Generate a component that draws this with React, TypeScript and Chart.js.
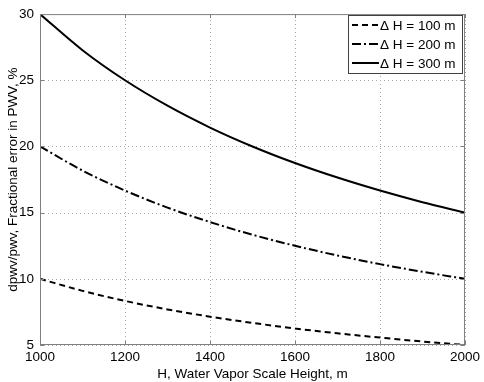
import React, { useEffect, useRef } from "react";
import { Chart, registerables } from "chart.js";

Chart.register(...registerables);

const heights = [1000, 1100, 1200, 1300, 1400, 1500, 1600, 1700, 1800, 1900, 2000];
const err100 = [10, 9.09, 8.33, 7.69, 7.14, 6.67, 6.25, 5.88, 5.56, 5.26, 5.0];
const err200 = [20, 18.18, 16.67, 15.38, 14.29, 13.33, 12.5, 11.76, 11.11, 10.53, 10.0];
const err300 = [30, 27.27, 25.0, 23.08, 21.43, 20.0, 18.75, 17.65, 16.67, 15.79, 15.0];
const seriesLabels = ["\u0394 H = 100 m", "\u0394 H = 200 m", "\u0394 H = 300 m"];
const xTitle = "H, Water Vapor Scale Height, m";
const yTitle = "dpwv/pwv, Fractional error in PWV, %";

const FONT = "'Liberation Sans', Arial, Helvetica, sans-serif";

const gridPlugin = {
  id: "matlabGrid",
  beforeDatasetsDraw(chart: any) {
    const { ctx, chartArea: a, scales } = chart;
    ctx.save();
    ctx.strokeStyle = "#a8a8a8";
    ctx.lineWidth = 1;
    ctx.setLineDash([1, 3]);
    ctx.beginPath();
    scales.x.ticks.forEach((t: any) => {
      const px = Math.round(scales.x.getPixelForValue(t.value)) + 0.5;
      ctx.moveTo(px, a.bottom);
      ctx.lineTo(px, a.top);
    });
    scales.y.ticks.forEach((t: any) => {
      const py = Math.round(scales.y.getPixelForValue(t.value)) + 0.5;
      ctx.moveTo(a.left, py);
      ctx.lineTo(a.right, py);
    });
    ctx.stroke();
    ctx.restore();
  },
};

const boxPlugin = {
  id: "matlabBox",
  afterDatasetsDraw(chart: any) {
    const { ctx, chartArea: a, scales } = chart;
    ctx.save();
    ctx.strokeStyle = "#808080";
    ctx.lineWidth = 1;
    ctx.setLineDash([]);
    ctx.strokeRect(a.left + 0.5, a.top + 0.5, a.right - a.left - 1, a.bottom - a.top - 1);
    const xs = scales.x;
    const ys = scales.y;
    ctx.beginPath();
    xs.ticks.forEach((t: any) => {
      const px = Math.round(xs.getPixelForValue(t.value)) + 0.5;
      ctx.moveTo(px, a.bottom);
      ctx.lineTo(px, a.bottom - 4);
      ctx.moveTo(px, a.top);
      ctx.lineTo(px, a.top + 4);
    });
    ys.ticks.forEach((t: any) => {
      const py = Math.round(ys.getPixelForValue(t.value)) + 0.5;
      ctx.moveTo(a.left, py);
      ctx.lineTo(a.left + 4, py);
      ctx.moveTo(a.right, py);
      ctx.lineTo(a.right - 4, py);
    });
    ctx.stroke();

    // legend
    const lx = 348, ly = 15, lw = 114, lh = 58;
    ctx.fillStyle = "#ffffff";
    ctx.fillRect(lx, ly, lw, lh);
    ctx.strokeStyle = "#404040";
    ctx.strokeRect(lx + 0.5, ly + 0.5, lw, lh);
    chart.data.datasets.forEach((ds: any, i: number) => {
      const y = ly + 10 + i * 19;
      ctx.strokeStyle = "#000";
      ctx.lineWidth = 2;
      ctx.setLineDash(ds.borderDash || []);
      ctx.beginPath();
      ctx.moveTo(lx + 4, y);
      ctx.lineTo(lx + 31, y);
      ctx.stroke();
      ctx.setLineDash([]);
      ctx.fillStyle = "#000";
      ctx.font = `13.5px ${FONT}`;
      ctx.textBaseline = "middle";
      ctx.textAlign = "left";
      ctx.fillText(ds.label, lx + 32, y + 1);
    });
    ctx.restore();
  },
};

export default function App() {
  const ref = useRef<HTMLCanvasElement>(null);
  useEffect(() => {
    document.body.style.margin = "0";
    const toPts = (arr: number[]) => arr.map((v, i) => ({ x: heights[i], y: v }));
    const chart = new Chart(ref.current!, {
      type: "line",
      data: {
        datasets: [
          { label: seriesLabels[0], data: toPts(err100), borderColor: "#000", borderWidth: 2, borderDash: [6, 4], pointRadius: 0, cubicInterpolationMode: "monotone", fill: false },
          { label: seriesLabels[1], data: toPts(err200), borderColor: "#000", borderWidth: 2, borderDash: [9, 3, 2, 3], pointRadius: 0, cubicInterpolationMode: "monotone", fill: false },
          { label: seriesLabels[2], data: toPts(err300), borderColor: "#000", borderWidth: 2, pointRadius: 0, cubicInterpolationMode: "monotone", fill: false },
        ],
      },
      options: {
        animation: false,
        responsive: false,
        maintainAspectRatio: false,
        layout: { padding: { top: 11, right: 19, left: 0, bottom: 0 } },
        plugins: { legend: { display: false }, tooltip: { enabled: false } },
        scales: {
          x: {
            type: "linear",
            min: 1000,
            max: 2000,
            ticks: { stepSize: 200, color: "#000", font: { family: FONT, size: 13.5 }, padding: 4, maxRotation: 0, callback: (v: any) => String(v) },
            grid: { display: false, drawTicks: false },
            border: { display: false },
            title: { display: true, text: xTitle, color: "#000", font: { family: FONT, size: 13.5 }, padding: { top: 0, bottom: 0 } },
            afterFit: (s: any) => { s.height = 37; },
          },
          y: {
            type: "linear",
            min: 5,
            max: 30,
            ticks: { stepSize: 5, color: "#000", font: { family: FONT, size: 13.5 }, padding: 6, callback: (v: any) => String(v) },
            grid: { display: false, drawTicks: false },
            border: { display: false },
            title: { display: true, text: yTitle, color: "#000", font: { family: FONT, size: 13.5 }, padding: { top: 5, bottom: 0 } },
            afterFit: (s: any) => { s.width = 40; },
          },
        },
      },
      plugins: [gridPlugin, boxPlugin],
    } as any);
    return () => chart.destroy();
  }, []);
  return (
    <div style={{ width: 484, height: 382 }}>
      <canvas ref={ref} width={484} height={382} style={{ display: "block" }} />
    </div>
  );
}
